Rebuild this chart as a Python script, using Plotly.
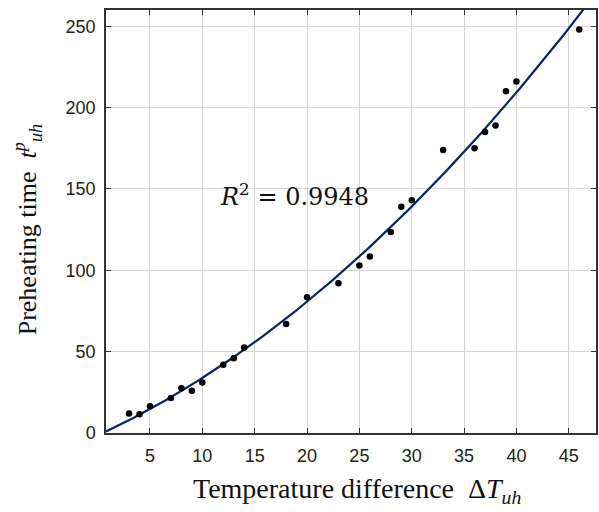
import numpy as np
import plotly.graph_objects as go

delta_t = [3, 4, 5, 7, 8, 9, 10, 12, 13, 14, 18, 20, 23, 25, 26, 28, 29, 30, 33, 36, 37, 38, 39, 40, 46]
preheat = [12, 11.5, 16.5, 21.5, 27.5, 26, 31, 42, 46, 52.5, 67, 83.5, 92, 103, 108.5, 123.5, 139, 143, 174, 175, 185, 189, 210, 216, 248]
x_ticks = [5, 10, 15, 20, 25, 30, 35, 40, 45]
y_ticks = [0, 50, 100, 150, 200, 250]
r2_text = "<i>R</i><sup>2</sup> = 0.9948"

coef = np.polyfit(delta_t, preheat, 2)
xf = np.linspace(0.8, 47.6, 300)
yf = np.polyval(coef, xf)

fig = go.Figure()
fig.add_trace(go.Scatter(x=xf, y=yf, mode="lines",
                         line=dict(color="#0b2466", width=2.2), showlegend=False))
fig.add_trace(go.Scatter(x=delta_t, y=preheat, mode="markers",
                         marker=dict(color="black", size=6.5), showlegend=False))

axis_common = dict(showgrid=True, gridcolor="#d6d6d6", gridwidth=1,
                   showline=True, linecolor="#333333", linewidth=1.5, mirror="ticks",
                   ticks="inside", ticklen=5, tickcolor="#333333", zeroline=False,
                   tickfont=dict(family="Liberation Sans", size=18, color="#222222"))

fig.update_xaxes(range=[0.8, 47.6], tickvals=x_ticks, ticklabelstandoff=6, **axis_common)
fig.update_yaxes(range=[0, 260], tickvals=y_ticks, ticklabelstandoff=5, **axis_common)

fig.add_annotation(text=r2_text, x=18.83, y=146, xref="x", yref="y",
                   xanchor="center", yanchor="middle",
                   showarrow=False, font=dict(family="DejaVu Serif", size=24, color="#111111"))
fig.add_annotation(text="Temperature difference  Δ<i>T</i><sub><i>uh</i></sub>",
                   xref="paper", yref="paper", x=(358 - 106) / 492, y=(433 - 490) / 423,
                   xanchor="center", yanchor="middle",
                   showarrow=False, font=dict(family="Liberation Serif", size=28, color="#111111"))
fig.add_annotation(text="Preheating time  <i>t</i><sup><i>p</i></sup><sub><i>uh</i></sub>",
                   xref="paper", yref="paper", x=(27 - 106) / 492, y=(433 - 230) / 423,
                   xanchor="center", yanchor="middle", textangle=-90,
                   showarrow=False, font=dict(family="Liberation Serif", size=26, color="#111111"))

fig.update_layout(width=599, height=512, margin=dict(l=106, r=1, t=10, b=79),
                  plot_bgcolor="white", paper_bgcolor="white")
fig.write_html("out.html")
